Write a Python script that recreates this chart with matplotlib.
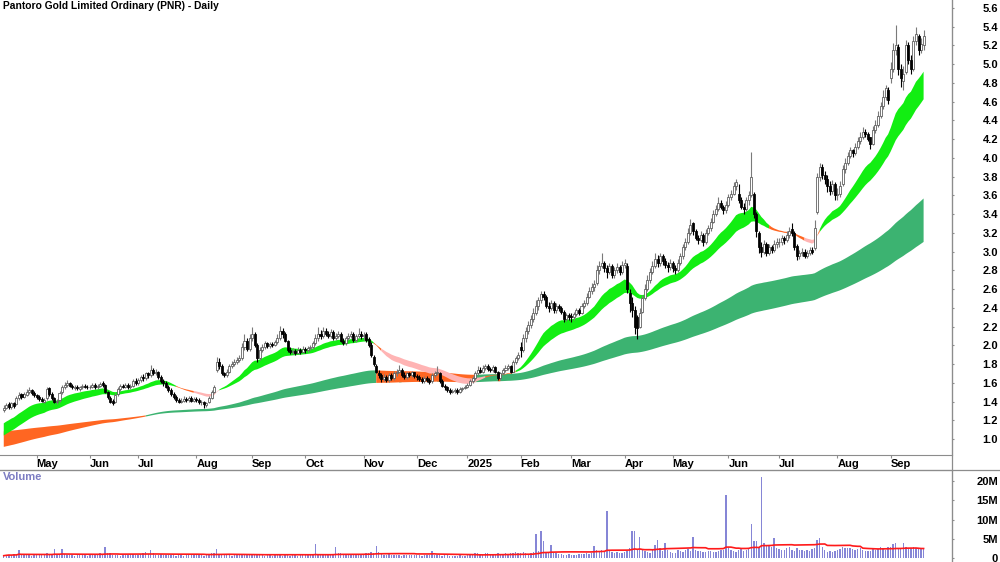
import numpy as np
import pandas as pd
import matplotlib
matplotlib.use("Agg")
import matplotlib.pyplot as plt
from matplotlib.patches import Rectangle
from matplotlib.collections import PatchCollection, LineCollection
from matplotlib.lines import Line2D

TITLE = "Pantoro Gold Limited Ordinary (PNR) - Daily"
FONT = ["Liberation Sans", "DejaVu Sans"]

# ---------------- daily OHLC, read month by month (A$) ----------------
o_2404 = [1.31, 1.33, 1.37, 1.34, 1.38, 1.37, 1.44, 1.48, 1.45, 1.47, 1.50, 1.52, 1.49]
h_2404 = [1.36, 1.38, 1.39, 1.40, 1.40, 1.46, 1.50, 1.49, 1.50, 1.53, 1.55, 1.53, 1.51]
l_2404 = [1.29, 1.32, 1.32, 1.32, 1.33, 1.36, 1.42, 1.43, 1.44, 1.46, 1.48, 1.47, 1.45]
c_2404 = [1.33, 1.36, 1.34, 1.38, 1.35, 1.44, 1.47, 1.45, 1.48, 1.50, 1.52, 1.49, 1.47]

o_2405 = [1.47, 1.45, 1.43, 1.40, 1.44, 1.54, 1.48, 1.44, 1.39, 1.42, 1.50, 1.55, 1.58, 1.60, 1.57, 1.54, 1.56, 1.53, 1.55, 1.57, 1.56]
h_2405 = [1.48, 1.47, 1.45, 1.44, 1.55, 1.56, 1.50, 1.45, 1.43, 1.51, 1.58, 1.61, 1.63, 1.61, 1.59, 1.58, 1.58, 1.57, 1.59, 1.59, 1.58]
l_2405 = [1.43, 1.41, 1.39, 1.38, 1.42, 1.46, 1.42, 1.38, 1.37, 1.40, 1.48, 1.53, 1.56, 1.55, 1.53, 1.52, 1.52, 1.51, 1.53, 1.54, 1.53]
c_2405 = [1.45, 1.43, 1.41, 1.42, 1.53, 1.48, 1.44, 1.40, 1.41, 1.49, 1.56, 1.58, 1.60, 1.57, 1.55, 1.56, 1.54, 1.55, 1.57, 1.56, 1.55]

o_2406 = [1.55, 1.56, 1.58, 1.55, 1.57, 1.60, 1.58, 1.50, 1.44, 1.41, 1.39, 1.48, 1.53, 1.57, 1.56, 1.58, 1.55, 1.57, 1.62]
h_2406 = [1.58, 1.60, 1.60, 1.59, 1.61, 1.62, 1.59, 1.51, 1.46, 1.43, 1.49, 1.55, 1.59, 1.59, 1.60, 1.60, 1.59, 1.64, 1.65]
l_2406 = [1.53, 1.54, 1.53, 1.53, 1.55, 1.56, 1.49, 1.43, 1.38, 1.36, 1.38, 1.46, 1.51, 1.54, 1.54, 1.53, 1.53, 1.55, 1.58]
c_2406 = [1.56, 1.58, 1.55, 1.57, 1.59, 1.58, 1.50, 1.45, 1.40, 1.38, 1.47, 1.53, 1.57, 1.56, 1.58, 1.55, 1.57, 1.62, 1.60]

o_2407 = [1.60, 1.63, 1.66, 1.65, 1.70, 1.68, 1.74, 1.70, 1.72, 1.66, 1.62, 1.60, 1.56, 1.52, 1.48, 1.45, 1.42, 1.40, 1.41, 1.43, 1.42, 1.44, 1.41]
h_2407 = [1.65, 1.68, 1.69, 1.72, 1.72, 1.79, 1.76, 1.75, 1.73, 1.68, 1.64, 1.62, 1.58, 1.54, 1.50, 1.47, 1.44, 1.44, 1.46, 1.45, 1.46, 1.46, 1.45]
l_2407 = [1.58, 1.61, 1.62, 1.63, 1.65, 1.66, 1.68, 1.68, 1.64, 1.60, 1.57, 1.54, 1.50, 1.46, 1.43, 1.40, 1.38, 1.38, 1.39, 1.40, 1.40, 1.39, 1.39]
c_2407 = [1.63, 1.66, 1.65, 1.70, 1.68, 1.74, 1.70, 1.72, 1.66, 1.62, 1.60, 1.56, 1.52, 1.48, 1.45, 1.42, 1.40, 1.41, 1.43, 1.42, 1.44, 1.41, 1.43]

o_2408 = [1.43, 1.42, 1.39, 1.40, 1.36, 1.39, 1.44, 1.50, 1.74, 1.82, 1.78, 1.70, 1.68, 1.72, 1.78, 1.80, 1.82, 1.84, 1.86, 1.98, 2.05, 1.96]
h_2408 = [1.45, 1.44, 1.42, 1.41, 1.40, 1.46, 1.52, 1.58, 1.88, 1.86, 1.80, 1.72, 1.75, 1.80, 1.83, 1.85, 1.87, 1.90, 2.02, 2.12, 2.08, 2.12]
l_2408 = [1.40, 1.37, 1.36, 1.33, 1.34, 1.38, 1.43, 1.49, 1.72, 1.75, 1.68, 1.66, 1.66, 1.70, 1.76, 1.78, 1.80, 1.82, 1.84, 1.95, 1.94, 1.94]
c_2408 = [1.42, 1.39, 1.40, 1.37, 1.38, 1.44, 1.50, 1.56, 1.82, 1.78, 1.70, 1.68, 1.72, 1.78, 1.80, 1.82, 1.84, 1.86, 1.98, 2.05, 1.96, 2.08]

o_2409 = [2.08, 2.12, 2.00, 1.86, 1.95, 1.98, 2.02, 1.99, 2.01, 2.00, 2.03, 2.08, 2.15, 2.12, 2.05, 1.95, 1.93, 1.94, 1.92, 1.95, 1.93]
h_2409 = [2.20, 2.14, 2.02, 1.98, 2.01, 2.05, 2.04, 2.03, 2.04, 2.06, 2.12, 2.21, 2.18, 2.14, 2.06, 1.98, 1.97, 1.96, 1.98, 1.97, 1.99]
l_2409 = [2.05, 1.98, 1.82, 1.84, 1.93, 1.96, 1.97, 1.97, 1.98, 1.99, 2.01, 2.06, 2.08, 2.03, 1.93, 1.91, 1.91, 1.90, 1.91, 1.91, 1.92]
c_2409 = [2.12, 2.00, 1.86, 1.95, 1.98, 2.02, 1.99, 2.01, 2.00, 2.03, 2.08, 2.15, 2.12, 2.05, 1.95, 1.93, 1.94, 1.92, 1.95, 1.93, 1.96]

o_2410 = [1.96, 1.95, 1.97, 1.98, 2.02, 2.08, 2.12, 2.10, 2.15, 2.12, 2.10, 2.14, 2.08, 2.10, 2.12, 2.05, 2.02, 2.08, 2.10, 2.12, 2.06, 2.10, 2.12]
h_2410 = [1.98, 1.99, 2.00, 2.05, 2.12, 2.20, 2.16, 2.20, 2.18, 2.15, 2.17, 2.16, 2.13, 2.15, 2.14, 2.08, 2.10, 2.13, 2.15, 2.14, 2.12, 2.18, 2.15]
l_2410 = [1.92, 1.93, 1.95, 1.96, 2.00, 2.05, 2.07, 2.08, 2.10, 2.08, 2.08, 2.06, 2.06, 2.08, 2.03, 2.00, 2.00, 2.06, 2.08, 2.04, 2.04, 2.08, 2.07]
c_2410 = [1.95, 1.97, 1.98, 2.02, 2.08, 2.12, 2.10, 2.15, 2.12, 2.10, 2.14, 2.08, 2.10, 2.12, 2.05, 2.02, 2.08, 2.10, 2.12, 2.06, 2.10, 2.12, 2.10]

o_2411 = [2.10, 2.12, 2.07, 2.00, 1.88, 1.78, 1.70, 1.68, 1.64, 1.66, 1.63, 1.68, 1.65, 1.70, 1.72, 1.74, 1.68, 1.66, 1.70, 1.68, 1.71]
h_2411 = [2.14, 2.14, 2.09, 2.03, 1.90, 1.80, 1.74, 1.70, 1.69, 1.68, 1.70, 1.70, 1.73, 1.75, 1.79, 1.76, 1.71, 1.72, 1.72, 1.73, 1.72]
l_2411 = [2.06, 2.04, 1.98, 1.88, 1.78, 1.70, 1.65, 1.61, 1.62, 1.61, 1.61, 1.63, 1.63, 1.67, 1.70, 1.66, 1.64, 1.64, 1.66, 1.66, 1.65]
c_2411 = [2.10, 2.06, 2.00, 1.90, 1.80, 1.72, 1.68, 1.64, 1.66, 1.63, 1.68, 1.65, 1.70, 1.72, 1.74, 1.68, 1.66, 1.70, 1.68, 1.71, 1.67]

o_2412 = [1.67, 1.66, 1.64, 1.62, 1.65, 1.63, 1.62, 1.68, 1.70, 1.70, 1.62, 1.57, 1.55, 1.52, 1.50, 1.51, 1.52, 1.50, 1.53, 1.54]
h_2412 = [1.69, 1.68, 1.66, 1.67, 1.67, 1.65, 1.70, 1.73, 1.78, 1.72, 1.64, 1.59, 1.57, 1.54, 1.53, 1.54, 1.54, 1.55, 1.56, 1.58]
l_2412 = [1.63, 1.62, 1.60, 1.60, 1.61, 1.59, 1.60, 1.66, 1.68, 1.60, 1.55, 1.52, 1.50, 1.48, 1.49, 1.49, 1.48, 1.49, 1.51, 1.53]
c_2412 = [1.66, 1.64, 1.62, 1.65, 1.63, 1.61, 1.68, 1.70, 1.72, 1.62, 1.57, 1.55, 1.52, 1.50, 1.51, 1.52, 1.50, 1.53, 1.54, 1.56]

o_2501 = [1.56, 1.58, 1.62, 1.65, 1.70, 1.74, 1.72, 1.76, 1.78, 1.75, 1.74, 1.77, 1.72, 1.65, 1.70, 1.74, 1.76, 1.78, 1.72, 1.82, 1.86]
h_2501 = [1.60, 1.64, 1.67, 1.73, 1.78, 1.77, 1.79, 1.80, 1.80, 1.77, 1.79, 1.78, 1.73, 1.72, 1.76, 1.79, 1.80, 1.79, 1.84, 1.89, 1.93]
l_2501 = [1.54, 1.57, 1.60, 1.63, 1.68, 1.70, 1.70, 1.74, 1.73, 1.71, 1.72, 1.70, 1.63, 1.63, 1.68, 1.72, 1.74, 1.70, 1.71, 1.80, 1.84]
c_2501 = [1.58, 1.62, 1.65, 1.70, 1.74, 1.72, 1.76, 1.78, 1.75, 1.74, 1.77, 1.72, 1.65, 1.70, 1.74, 1.76, 1.78, 1.72, 1.82, 1.86, 1.90]

o_2502 = [1.98, 1.95, 2.08, 2.15, 2.22, 2.28, 2.35, 2.42, 2.48, 2.55, 2.52, 2.42, 2.40, 2.45, 2.38, 2.42, 2.40, 2.36, 2.28, 2.32]
h_2502 = [2.04, 2.12, 2.20, 2.26, 2.32, 2.40, 2.48, 2.52, 2.58, 2.58, 2.54, 2.46, 2.48, 2.47, 2.45, 2.44, 2.42, 2.38, 2.35, 2.35]
l_2502 = [1.88, 1.93, 2.04, 2.12, 2.18, 2.25, 2.32, 2.38, 2.45, 2.48, 2.40, 2.36, 2.38, 2.35, 2.35, 2.37, 2.33, 2.25, 2.26, 2.27]
c_2502 = [1.95, 2.08, 2.15, 2.22, 2.28, 2.35, 2.42, 2.48, 2.55, 2.52, 2.42, 2.40, 2.45, 2.38, 2.42, 2.40, 2.36, 2.28, 2.32, 2.30]

o_2503 = [2.31, 2.30, 2.33, 2.38, 2.35, 2.42, 2.45, 2.52, 2.58, 2.62, 2.66, 2.80, 2.85, 2.88, 2.82, 2.78, 2.85, 2.75, 2.80, 2.84, 2.78]
h_2503 = [2.34, 2.36, 2.40, 2.40, 2.45, 2.48, 2.56, 2.62, 2.66, 2.70, 2.86, 2.90, 2.98, 2.90, 2.86, 2.88, 2.87, 2.84, 2.88, 2.86, 2.90]
l_2503 = [2.25, 2.27, 2.31, 2.32, 2.33, 2.40, 2.43, 2.50, 2.55, 2.58, 2.64, 2.76, 2.82, 2.78, 2.72, 2.76, 2.72, 2.72, 2.77, 2.75, 2.76]
c_2503 = [2.30, 2.33, 2.38, 2.35, 2.42, 2.45, 2.52, 2.58, 2.62, 2.65, 2.80, 2.85, 2.88, 2.82, 2.78, 2.85, 2.75, 2.80, 2.84, 2.78, 2.86]

o_2504 = [2.86, 2.85, 2.56, 2.45, 2.38, 2.30, 2.20, 2.36, 2.50, 2.60, 2.70, 2.78, 2.85, 2.92, 2.88, 2.95, 2.90, 2.86, 2.84]
h_2504 = [2.92, 2.88, 2.60, 2.52, 2.42, 2.32, 2.40, 2.54, 2.65, 2.75, 2.82, 2.90, 2.98, 2.96, 2.98, 2.97, 2.93, 2.89, 2.92]
l_2504 = [2.82, 2.56, 2.36, 2.30, 2.12, 2.07, 2.18, 2.34, 2.48, 2.58, 2.66, 2.76, 2.83, 2.84, 2.85, 2.86, 2.82, 2.78, 2.80]
c_2504 = [2.88, 2.60, 2.45, 2.38, 2.20, 2.18, 2.35, 2.50, 2.60, 2.70, 2.78, 2.85, 2.92, 2.88, 2.95, 2.90, 2.86, 2.84, 2.88]

o_2505 = [2.88, 2.82, 2.80, 2.88, 2.95, 3.05, 3.10, 3.20, 3.30, 3.22, 3.15, 3.12, 3.18, 3.10, 3.20, 3.25, 3.32, 3.40, 3.45, 3.52, 3.48, 3.44]
h_2505 = [2.90, 2.86, 2.92, 2.98, 3.08, 3.14, 3.25, 3.35, 3.32, 3.24, 3.18, 3.22, 3.20, 3.24, 3.28, 3.36, 3.44, 3.50, 3.58, 3.55, 3.50, 3.54]
l_2505 = [2.78, 2.76, 2.78, 2.86, 2.92, 3.02, 3.08, 3.18, 3.18, 3.12, 3.08, 3.10, 3.06, 3.08, 3.18, 3.22, 3.30, 3.38, 3.43, 3.45, 3.40, 3.41]
c_2505 = [2.82, 2.80, 2.88, 2.95, 3.05, 3.10, 3.20, 3.28, 3.22, 3.15, 3.12, 3.18, 3.10, 3.20, 3.25, 3.32, 3.40, 3.45, 3.52, 3.48, 3.44, 3.50]

o_2506 = [3.50, 3.58, 3.62, 3.70, 3.62, 3.55, 3.48, 3.45, 3.55, 3.60, 3.62, 3.40, 3.20, 3.05, 3.00, 3.08, 2.98, 3.05, 3.02, 3.08]
h_2506 = [3.62, 3.66, 3.74, 3.77, 3.72, 3.58, 3.52, 3.58, 3.65, 4.06, 3.64, 3.42, 3.22, 3.10, 3.12, 3.10, 3.08, 3.07, 3.12, 3.14]
l_2506 = [3.48, 3.55, 3.60, 3.66, 3.52, 3.45, 3.40, 3.43, 3.50, 3.58, 3.36, 3.16, 2.98, 2.94, 2.97, 2.95, 2.96, 2.99, 3.00, 3.04]
c_2506 = [3.58, 3.62, 3.70, 3.74, 3.55, 3.48, 3.45, 3.55, 3.60, 3.80, 3.40, 3.22, 3.05, 3.00, 3.08, 2.98, 3.05, 3.02, 3.08, 3.10]

o_2507 = [3.10, 3.10, 3.15, 3.12, 3.18, 3.24, 3.20, 3.06, 2.95, 2.98, 3.00, 2.95, 2.98, 3.02, 3.04, 3.42, 3.80, 3.90, 3.82, 3.78, 3.70, 3.65, 3.72]
h_2507 = [3.15, 3.18, 3.17, 3.22, 3.26, 3.30, 3.22, 3.08, 3.02, 3.04, 3.03, 3.02, 3.05, 3.05, 3.34, 3.84, 3.95, 3.93, 3.86, 3.82, 3.75, 3.76, 3.74]
l_2507 = [3.05, 3.07, 3.08, 3.10, 3.15, 3.17, 3.02, 2.91, 2.92, 2.95, 2.93, 2.93, 2.96, 2.97, 3.02, 3.40, 3.75, 3.78, 3.72, 3.64, 3.60, 3.62, 3.55]
c_2507 = [3.10, 3.15, 3.12, 3.18, 3.22, 3.20, 3.05, 2.95, 2.98, 3.00, 2.95, 2.98, 3.02, 3.00, 3.25, 3.80, 3.90, 3.82, 3.78, 3.70, 3.65, 3.72, 3.60]

o_2508 = [3.60, 3.62, 3.72, 3.88, 3.95, 4.02, 4.08, 4.05, 4.12, 4.18, 4.22, 4.28, 4.26, 4.22, 4.15, 4.30, 4.35, 4.45, 4.55, 4.65, 4.72]
h_2508 = [3.68, 3.75, 3.92, 4.00, 4.06, 4.12, 4.10, 4.16, 4.22, 4.28, 4.33, 4.31, 4.28, 4.22, 4.34, 4.40, 4.50, 4.60, 4.72, 4.78, 4.76]
l_2508 = [3.55, 3.58, 3.70, 3.84, 3.92, 4.00, 4.01, 4.03, 4.10, 4.15, 4.20, 4.22, 4.18, 4.10, 4.14, 4.27, 4.33, 4.43, 4.52, 4.62, 4.58]
c_2508 = [3.62, 3.70, 3.88, 3.95, 4.02, 4.08, 4.05, 4.12, 4.18, 4.22, 4.28, 4.26, 4.20, 4.15, 4.30, 4.35, 4.45, 4.55, 4.65, 4.75, 4.62]

o_2509 = [4.85, 4.95, 5.15, 5.18, 4.95, 4.82, 4.92, 5.20, 5.05, 4.95, 5.25, 5.30, 5.15, 5.20]
h_2509 = [5.02, 5.23, 5.42, 5.22, 5.00, 4.98, 5.26, 5.24, 5.10, 5.30, 5.40, 5.32, 5.28, 5.36]
l_2509 = [4.80, 4.92, 5.10, 4.88, 4.76, 4.72, 4.90, 5.00, 4.90, 4.93, 5.20, 5.10, 5.12, 5.15]
c_2509 = [4.95, 5.15, 5.20, 4.95, 4.85, 4.90, 5.20, 5.05, 4.95, 5.25, 5.32, 5.15, 5.22, 5.30]

# ---------------- daily volume (millions of shares) ----------------
v_2404 = [0.6, 0.8, 0.9, 0.7, 1.0, 0.8, 2.1, 0.7, 0.9, 1.1, 0.8, 0.6, 0.9]
v_2405 = [0.8, 0.7, 1.0, 0.9, 1.2, 0.8, 1.0, 2.3, 1.1, 0.9, 2.3, 1.0, 0.8, 0.7, 0.9, 0.6, 0.8, 0.7, 1.0, 0.8, 0.6]
v_2406 = [0.7, 0.9, 0.8, 1.0, 1.2, 1.1, 2.8, 1.4, 1.2, 0.9, 0.8, 0.7, 0.6, 0.9, 0.8, 0.7, 1.0, 1.1, 0.9]
v_2407 = [0.8, 1.0, 1.2, 1.6, 1.1, 2.1, 1.3, 0.9, 0.8, 1.0, 0.9, 0.8, 0.7, 0.9, 0.8, 0.6, 0.7, 0.8, 0.6, 0.7, 0.9, 0.7, 0.8]
v_2408 = [0.7, 0.8, 0.9, 0.6, 0.8, 1.0, 1.2, 1.4, 2.3, 1.0, 0.8, 0.7, 0.9, 0.8, 0.6, 0.7, 0.8, 0.9, 0.7, 1.0, 0.8, 0.9]
v_2409 = [1.0, 0.8, 0.9, 0.7, 0.8, 0.6, 0.7, 0.9, 0.6, 0.8, 1.0, 0.7, 0.6, 0.8, 0.7, 0.6, 0.9, 0.7, 0.6, 0.8, 0.7]
v_2410 = [0.8, 0.7, 0.9, 1.0, 3.7, 0.9, 0.8, 0.7, 0.9, 0.8, 0.7, 1.0, 2.8, 1.4, 1.2, 1.0, 0.9, 1.1, 0.8, 0.9, 1.0, 0.8, 0.9]
v_2411 = [1.0, 1.2, 1.4, 1.5, 1.3, 3.2, 1.6, 1.2, 0.9, 0.8, 1.0, 0.9, 0.7, 0.8, 0.9, 0.6, 0.7, 0.8, 0.9, 0.7, 0.8]
v_2412 = [0.7, 0.8, 0.6, 0.9, 0.7, 0.8, 1.9, 0.9, 0.8, 0.7, 0.6, 0.8, 0.7, 0.6, 0.5, 0.4, 0.6, 0.7, 0.5, 0.6]
v_2501 = [0.8, 0.9, 1.0, 1.2, 1.3, 1.1, 0.9, 1.4, 1.2, 1.0, 0.9, 1.1, 1.3, 1.0, 0.9, 1.2, 1.0, 1.4, 1.3, 1.5, 1.2]
v_2502 = [1.2, 1.5, 1.3, 1.1, 1.4, 1.6, 6.2, 1.8, 7.1, 4.3, 1.5, 1.2, 3.4, 1.3, 1.4, 1.1, 1.0, 0.8, 0.9, 1.0]
v_2503 = [0.8, 0.9, 0.8, 1.0, 1.1, 1.0, 1.2, 1.1, 1.3, 3.0, 2.2, 1.8, 2.0, 1.9, 12.2, 2.1, 1.5, 1.4, 1.6, 1.2, 1.3]
v_2504 = [1.5, 1.8, 2.5, 7.0, 7.0, 2.2, 5.5, 2.0, 1.8, 1.6, 1.4, 2.2, 3.4, 4.8, 2.5, 1.8, 4.0, 2.0, 1.6]
v_2505 = [1.2, 1.4, 2.0, 1.8, 1.6, 2.1, 2.4, 1.9, 5.5, 2.0, 1.7, 1.8, 1.6, 1.5, 1.7, 1.9, 1.6, 1.5, 1.8, 2.0, 2.2, 16.4]
v_2506 = [2.5, 2.0, 1.8, 1.6, 2.2, 2.4, 1.8, 2.0, 2.6, 8.8, 4.3, 4.3, 2.8, 21.1, 3.9, 3.2, 3.0, 2.8, 5.2, 2.5]
v_2507 = [2.4, 2.2, 2.0, 2.6, 2.8, 2.1, 1.9, 2.5, 2.2, 2.0, 1.8, 2.1, 1.9, 2.3, 2.6, 4.8, 5.1, 2.8, 2.2, 1.6, 1.8, 1.5, 1.9]
v_2508 = [2.0, 2.4, 2.8, 2.6, 2.5, 2.7, 2.3, 2.2, 2.4, 2.6, 2.1, 1.9, 1.7, 1.8, 2.5, 2.2, 2.4, 2.8, 2.5, 2.2, 2.9]
v_2509 = [2.8, 3.6, 3.8, 2.6, 2.4, 3.8, 2.9, 2.6, 2.5, 2.8, 2.7, 2.6, 2.4, 2.5]

# moving-average groups and their values at the left edge of the chart
SHORT_PERIODS = [20, 23, 26, 29, 32, 35]
SHORT_START = [1.15, 1.13, 1.10, 1.07, 1.05, 1.02]
LONG_PERIODS = [140, 155, 170, 185, 205, 230]
LONG_START = [0.91, 0.94, 0.97, 1.01, 1.04, 1.08]
VOL_MA_PERIOD = 40

MONTHS = ["2404", "2405", "2406", "2407", "2408", "2409", "2410", "2411", "2412",
          "2501", "2502", "2503", "2504", "2505", "2506", "2507", "2508", "2509"]
g = globals()
opens = np.array(sum([g["o_" + m] for m in MONTHS], []))
highs = np.array(sum([g["h_" + m] for m in MONTHS], []))
lows = np.array(sum([g["l_" + m] for m in MONTHS], []))
closes = np.array(sum([g["c_" + m] for m in MONTHS], []))
volume = np.array(sum([g["v_" + m] for m in MONTHS], [])) * 1e6

# trading calendar
non_trading = pd.to_datetime(["2024-04-25", "2024-05-20", "2024-05-21", "2024-06-10",
                              "2024-12-25", "2024-12-26", "2025-01-01", "2025-01-27",
                              "2025-04-18", "2025-04-21", "2025-04-25", "2025-06-09"])
dates = pd.bdate_range("2024-04-11", "2025-09-18")
dates = dates[~dates.isin(non_trading)]
n = len(closes)
dates = dates[:n]
x = np.arange(n)


def ema(vals, period, start):
    a = 2.0 / (period + 1.0)
    out = np.empty(len(vals))
    prev = start
    for i, v in enumerate(vals):
        prev = prev + a * (v - prev)
        out[i] = prev
    return out


S = np.array([ema(closes, p, s0) for p, s0 in zip(SHORT_PERIODS, SHORT_START)])
L = np.array([ema(closes, p, s0) for p, s0 in zip(LONG_PERIODS, LONG_START)])

GREEN = "#12EE12"
ORANGE = "#FF6622"
PINK = "#FFB4B4"
DKGREEN = "#3CB371"

s_col, l_col = [], []
for i in range(n):
    d = np.diff(S[:, i])
    if np.all(d <= 0):
        s_col.append(GREEN)
    elif np.all(d >= 0):
        s_col.append(PINK)
    else:
        s_col.append(ORANGE)
    if L[0, i] >= L[-1, i] and closes[i] >= L[:, i].max():
        l_col.append(DKGREEN)
    else:
        l_col.append(ORANGE)


def ribbon(ax, grp, cols, z):
    lo = grp.min(axis=0)
    hi = grp.max(axis=0)
    cols = np.array(cols)
    for c in np.unique(cols):
        m = cols == c
        m2 = m.copy()
        m2[1:] |= m[:-1]
        ax.fill_between(x, lo, hi, where=m2, color=c, linewidth=0, zorder=z,
                        interpolate=False)


# ---------------- figure ----------------
W, H = 1000, 562
fig = plt.figure(figsize=(W / 100, H / 100), dpi=100)
plt.rcParams["font.family"] = FONT

AX_RIGHT = 951.7
ax = fig.add_axes([0, 1 - 455 / H, AX_RIGHT / W, 455 / H])
axv = fig.add_axes([0, 0, AX_RIGHT / W, (H - 470) / H])

px_per_bar = 2.534
x0_px = 3.76
xlim = (-x0_px / px_per_bar, (AX_RIGHT - x0_px) / px_per_bar)

# price scale: 5.6 at y=8px, 1.0 at y=439px
ppu = (439 - 8) / 4.6
ax.set_ylim(1.0 - (455 - 439) / ppu, 5.6 + 8 / ppu)
ax.set_xlim(*xlim)

ribbon(ax, L, l_col, 1)
ribbon(ax, S, s_col, 2)

# candles
wick_up, wick_dn = [], []
bodies_up, bodies_dn = [], []
bw = 0.8
for i in range(n):
    o, h, l, c = opens[i], highs[i], lows[i], closes[i]
    seg = [(x[i], l), (x[i], h)]
    bot = min(o, c)
    ht = max(abs(c - o), 0.006)
    r = Rectangle((x[i] - bw / 2, bot), bw, ht)
    if c >= o:
        wick_up.append(seg)
        bodies_up.append(r)
    else:
        wick_dn.append(seg)
        bodies_dn.append(r)
ax.add_collection(LineCollection(wick_up, colors="#7a7a7a", linewidths=0.8, zorder=3))
ax.add_collection(LineCollection(wick_dn, colors="#000000", linewidths=0.8, zorder=3))
ax.add_collection(PatchCollection(bodies_up, facecolor="white", edgecolor="#555555",
                                  linewidth=0.55, zorder=4))
ax.add_collection(PatchCollection(bodies_dn, facecolor="black", edgecolor="black",
                                  linewidth=0.55, zorder=4))

# axes styling
for a_ in (ax, axv):
    for s in ("left", "top"):
        a_.spines[s].set_visible(False)
    a_.spines["right"].set_color("#8c8c8c")
    a_.spines["bottom"].set_color("#8c8c8c")
    a_.set_facecolor("white")

yt = np.round(np.arange(1.0, 5.61, 0.2), 1)
ax.yaxis.tick_right()
ax.set_yticks(yt)
ax.set_yticklabels([f"{v:.1f}" for v in yt])
pad_pt = (998 - AX_RIGHT - 2) * 0.72
ax.tick_params(axis="y", direction="out", length=1.5, color="#8c8c8c", pad=pad_pt,
               labelsize=8)
for t in ax.get_yticklabels():
    t.set_horizontalalignment("right")
    t.set_fontweight("bold")

# month ticks
mt_pos, mt_lab = [], []
for i in range(1, n):
    if dates[i].month != dates[i - 1].month:
        mt_pos.append(i)
        mt_lab.append(str(dates[i].year) if dates[i].month == 1 else dates[i].strftime("%b"))
ax.set_xticks(mt_pos)
ax.set_xticklabels(mt_lab)
ax.tick_params(axis="x", direction="out", length=2.2, color="#8c8c8c", pad=0.8,
               labelsize=8)
for t in ax.get_xticklabels():
    t.set_horizontalalignment("left")
    t.set_fontweight("bold")

# volume panel
vppm = (558 - 481) / 20e6
axv.set_ylim(-(562 - 558) / vppm, (558 - 470) / vppm)
axv.set_xlim(*xlim)
axv.bar(x, volume, width=0.55, color="#8686D6", linewidth=0, zorder=2)
vol_ma = pd.Series(volume).rolling(VOL_MA_PERIOD, min_periods=1).mean().values
axv.plot(x, vol_ma, color="#FF1A1A", linewidth=1.2, zorder=3)
axv.spines["bottom"].set_visible(False)
axv.spines["top"].set_visible(True)
axv.spines["top"].set_color("#8c8c8c")
axv.set_xticks([])
axv.yaxis.tick_right()
vt = [0, 5e6, 10e6, 15e6, 20e6]
axv.set_yticks(vt)
axv.set_yticklabels(["0", "5M", "10M", "15M", "20M"])
axv.tick_params(axis="y", direction="out", length=1.5, color="#8c8c8c", pad=pad_pt,
                labelsize=8)
for t in axv.get_yticklabels():
    t.set_horizontalalignment("right")
    t.set_fontweight("bold")

# separators
fig.add_artist(Line2D([0, 1], [1 - 469.5 / H, 1 - 469.5 / H], color="#8c8c8c",
                      linewidth=0.9, transform=fig.transFigure))
fig.add_artist(Line2D([AX_RIGHT / W, AX_RIGHT / W], [0, 1], color="#8c8c8c",
                      linewidth=0.9, transform=fig.transFigure))

fig.text(3 / W, 1 - 1 / H, TITLE, ha="left", va="top", fontsize=7.4, fontweight="bold",
         color="black")
fig.text(3 / W, 1 - 472 / H, "Volume", ha="left", va="top", fontsize=8,
         fontweight="bold", color="#7C7CC2")

fig.savefig("out.png", dpi=100, facecolor="white")
